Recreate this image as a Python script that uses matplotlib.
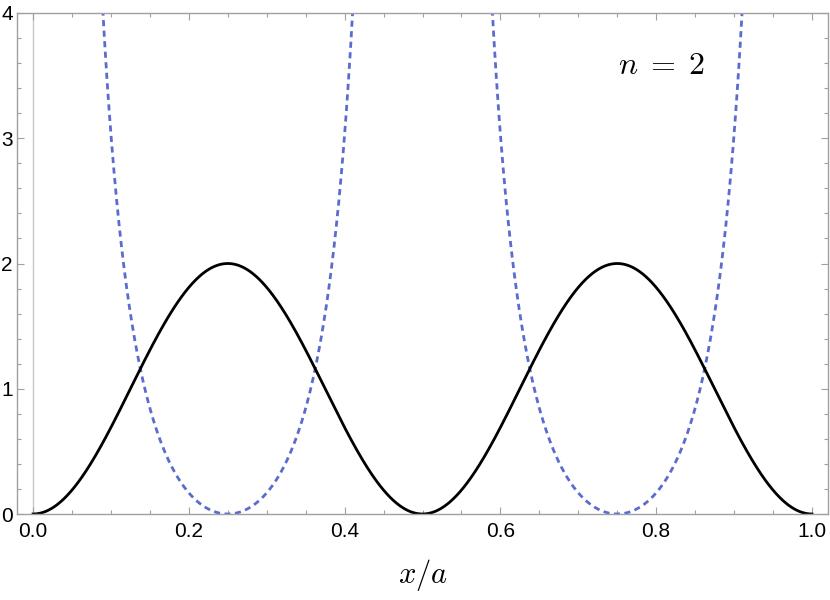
import numpy as np
import matplotlib
matplotlib.use("Agg")
import matplotlib.pyplot as plt
from matplotlib.ticker import MultipleLocator

# --- chart data (parameters of the plotted functions) ---
n_state = 2            # quantum number shown in the label
amplitude = 2.0        # peak height of the solid curve
dashed_coef = 1.6      # scale of the dashed curve (cot^2 shape)
x_ticks = [0.0, 0.2, 0.4, 0.6, 0.8, 1.0]
x_tick_labels = ["0.0", "0.2", "0.4", "0.6", "0.8", "1.0"]
y_ticks = [0, 1, 2, 3, 4]
y_tick_labels = ["0", "1", "2", "3", "4"]

x = np.linspace(0.0, 1.0, 4001)
solid = amplitude * np.sin(n_state * np.pi * x) ** 2
with np.errstate(divide="ignore", invalid="ignore"):
    dashed = dashed_coef * (np.cos(n_state * np.pi * x) / np.sin(n_state * np.pi * x)) ** 2
dashed[dashed > 10] = np.nan

plt.rcParams["mathtext.fontset"] = "cm"
fig = plt.figure(figsize=(8.3, 6.0), dpi=100)
ax = fig.add_axes([17 / 830, 86 / 600, 811 / 830, 501 / 600])

ax.axvline(0.0, color="#c8c8c8", lw=1.0, zorder=0)
ax.plot(x, dashed, color="#5b6ccf", lw=2.0, ls=(0, (2.2, 1.6)))
ax.plot(x, solid, color="black", lw=2.0)

ax.set_xlim(-0.0206, 1.0206)
ax.set_ylim(0, 4)

ax.set_xticks(x_ticks)
ax.set_xticklabels(x_tick_labels)
ax.set_yticks(y_ticks)
ax.set_yticklabels(y_tick_labels)
ax.xaxis.set_minor_locator(MultipleLocator(0.05))
ax.yaxis.set_minor_locator(MultipleLocator(0.2))

for s in ax.spines.values():
    s.set_color("#a0a0a0")
    s.set_linewidth(1.0)

ax.tick_params(which="both", direction="in", top=True, right=True,
               color="#a0a0a0", width=0.8, labelsize=15)
ax.tick_params(which="major", length=5)
ax.tick_params(which="minor", length=3)
ax.tick_params(axis="x", pad=6)
ax.tick_params(axis="y", pad=3)
for lab in ax.get_xticklabels() + ax.get_yticklabels():
    lab.set_fontfamily("Liberation Sans")

ax.text(0.807, 3.58, r"$n\;=\;%d$" % n_state, fontsize=23, ha="center", va="center")
fig.text(423 / 830, 1 - 575 / 600, r"$x/a$", fontsize=22, ha="center", va="center")

fig.savefig("out.png", dpi=100)
